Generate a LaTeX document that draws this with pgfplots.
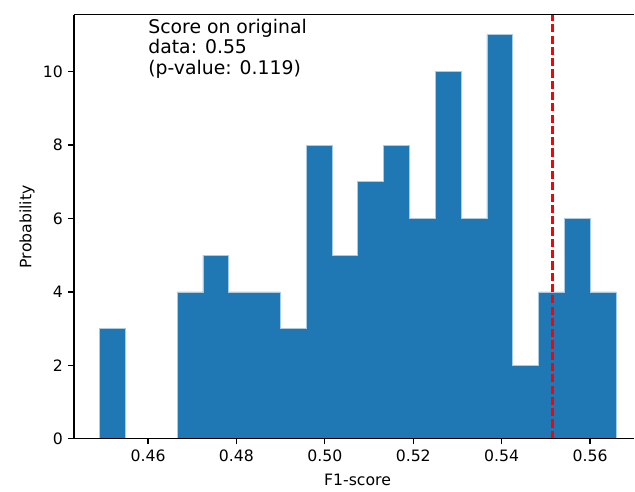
\documentclass[border=0pt]{standalone}
\usepackage{pgfplots}
\pgfplotsset{compat=1.18}
\usepackage{fontspec}
\setmainfont{DejaVu Sans}
\definecolor{mplblue}{HTML}{1F77B4}
\definecolor{edgeblue}{HTML}{A9CBE3}
\begin{document}
\begin{tikzpicture}
\begin{axis}[
  scale only axis, width=357.4pt, height=270.5pt,
  xmin=0.44323, xmax=0.57002, ymin=0, ymax=11.55,
  axis x line*=box, axis y line*=left,
  xtick={0.46,0.48,0.50,0.52,0.54,0.56},
  ytick={0,2,4,6,8,10},
  xtick pos=lower, ytick pos=left, tick align=outside,
  major tick length=3.5pt,
  tick style={black, line width=0.8pt},
  axis line style={black, line width=0.8pt},
  axis on top,
  /pgf/number format/assume math mode=true,
  xticklabel style={/pgf/number format/fixed, /pgf/number format/precision=2, /pgf/number format/zerofill},
  tick label style={font=\fontsize{10}{12}\selectfont},
  label style={font=\fontsize{10}{12}\selectfont},
  xlabel={F1-score},
  ylabel={Probability},
  xlabel style={at={(axis description cs:0.506,-0.111)}, anchor=base},
  ylabel style={at={(axis description cs:-0.0838,0.5)}, anchor=center, rotate=0},
]
\addplot[const plot mark left, fill=mplblue, draw=edgeblue, line width=0.5pt] coordinates {
(0.44907,0) (0.44907,3) (0.45491,0) (0.46075,0) (0.46659,4) (0.47243,5) (0.47827,4)
(0.48411,4) (0.48995,3) (0.49579,8) (0.50163,5) (0.50747,7) (0.51331,8)
(0.51915,6) (0.52499,10) (0.53083,6) (0.53667,11) (0.54251,2) (0.54835,4)
(0.55419,6) (0.56003,4) (0.56587,4) (0.56587,0)
} -- cycle;
\addplot[red, line width=1.3pt, dash pattern=on 5.2pt off 2pt] coordinates {(0.5515,0) (0.5515,11.55)};
\node[anchor=base west, inner sep=0pt, font=\fontsize{12}{14.4}\selectfont] at (axis cs:0.46,11.05) {Score on original};
\node[anchor=base west, inner sep=0pt, font=\fontsize{12}{14.4}\selectfont] at (axis cs:0.46,10.49) {data: 0.55};
\node[anchor=base west, inner sep=0pt, font=\fontsize{12}{14.4}\selectfont] at (axis cs:0.46,9.93) {(p-value: 0.119)};
\coordinate (bbsw) at (rel axis cs:-0.1319,-0.117);
\coordinate (bbne) at (rel axis cs:1,1.0346);
\end{axis}
\path (bbsw) rectangle (bbne);
\end{tikzpicture}
\end{document}
